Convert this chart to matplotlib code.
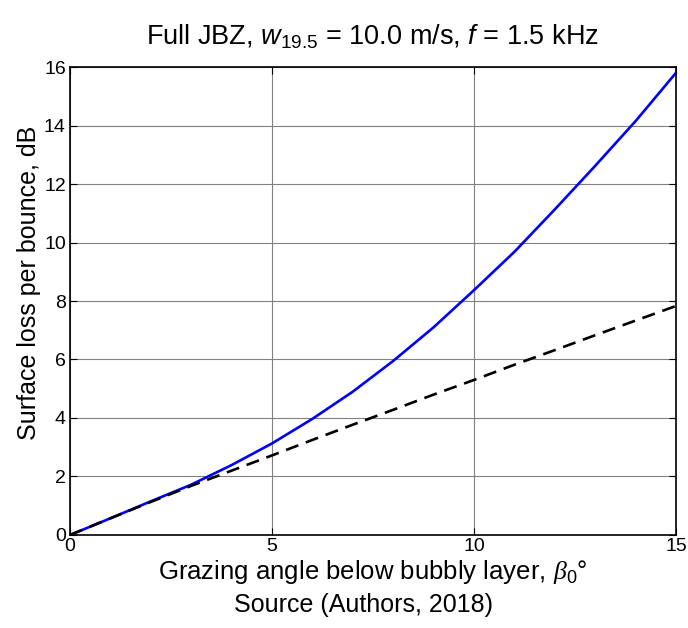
import matplotlib
matplotlib.use("Agg")
import matplotlib.pyplot as plt

plt.rcParams['font.family'] = ['Liberation Sans', 'DejaVu Sans']
plt.rcParams['mathtext.fontset'] = 'custom'
plt.rcParams['mathtext.rm'] = 'Liberation Sans'
plt.rcParams['mathtext.it'] = 'Liberation Sans:italic'
plt.rcParams['mathtext.bf'] = 'Liberation Serif:italic'

# grazing angle, degrees
angle = [0, 1, 2, 3, 4, 5, 6, 7, 8, 9, 10, 11, 12, 13, 14, 15]
# full JBZ surface loss (solid blue)
loss_full = [0.0, 0.57, 1.15, 1.72, 2.39, 3.13, 3.97, 4.90, 5.95, 7.10, 8.37,
             9.68, 11.13, 12.62, 14.15, 15.80]
# reference curve (dashed black)
loss_ref = [0.0, 0.57, 1.13, 1.68, 2.20, 2.72, 3.25, 3.77, 4.28, 4.80, 5.30,
            5.82, 6.32, 6.83, 7.33, 7.83]

xticks = [0, 5, 10, 15]
yticks = [0, 2, 4, 6, 8, 10, 12, 14, 16]

fig = plt.figure(figsize=(6.88, 6.28), dpi=100)
ax = fig.add_axes([0.1017, 0.1481, 0.8808, 0.7452])

ax.plot(angle, loss_full, color='#0000ff', lw=1.9)
ax.plot(angle, loss_ref, color='black', lw=1.9, ls=(0, (5, 3)))

ax.set_xlim(0, 15)
ax.set_ylim(0, 16)
ax.set_xticks(xticks)
ax.set_yticks(yticks)
ax.grid(True, color='#808080', lw=0.8)
ax.set_axisbelow(True)
ax.tick_params(direction='in', top=True, right=True, length=5, width=0.8,
               labelsize=14, pad=3)
ax.tick_params(axis='x', pad=2)
for s in ax.spines.values():
    s.set_linewidth(1.2)

ax.set_title(r'Full JBZ, $\mathit{w}_{19.5}$ = 10.0 m/s, $\mathit{f}$ = 1.5 kHz',
             fontsize=19.5, pad=16)
ax.set_ylabel('Surface loss per bounce, dB', fontsize=18)
ax.yaxis.set_label_coords(-0.048, 0.538)
ax.set_xlabel(r'Grazing angle below bubbly layer, $\mathbf{\beta}_0$°',
              fontsize=18.5, labelpad=2)
fig.text(0.528, 0.036, 'Source (Authors, 2018)', ha='center', va='center',
         fontsize=18)

fig.savefig('out.png', dpi=100)
